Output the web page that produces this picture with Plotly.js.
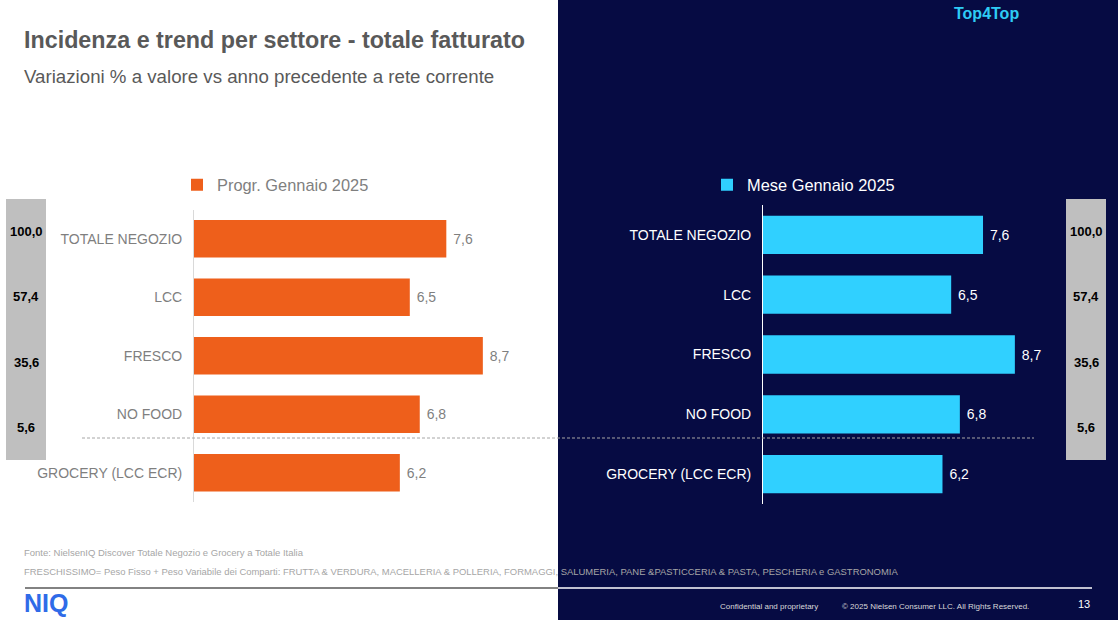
<!DOCTYPE html>
<html><head><meta charset="utf-8">
<script src="https://cdn.plot.ly/plotly-3.0.1.min.js"></script>
<style>html,body{margin:0;padding:0;background:#fff;overflow:hidden}#chart{width:1118px;height:620px}</style>
</head><body><div id="chart"></div>
<script>
// ---- data ----
const categories = ["TOTALE NEGOZIO", "LCC", "FRESCO", "NO FOOD", "GROCERY (LCC ECR)"];
const progrGennaio = [7.6, 6.5, 8.7, 6.8, 6.2];
const meseGennaio = [7.6, 6.5, 8.7, 6.8, 6.2];
const incidenzaCategories = ["TOTALE NEGOZIO", "LCC", "FRESCO", "NO FOOD"];
const incidenza = [100.0, 57.4, 35.6, 5.6];
const seriesNames = ["Progr. Gennaio 2025", "Mese Gennaio 2025"];
const titleText = "Incidenza e trend per settore - totale fatturato";
const subtitleText = "Variazioni % a valore vs anno precedente a rete corrente";
const sourceText = "Fonte: NielsenIQ Discover Totale Negozio e Grocery a Totale Italia";
const noteText = "FRESCHISSIMO= Peso Fisso + Peso Variabile dei Comparti: FRUTTA & VERDURA, MACELLERIA & POLLERIA, FORMAGGI, SALUMERIA, PANE &PASTICCERIA & PASTA, PESCHERIA e GASTRONOMIA";

// ---- layout helpers ----
const W = 1118, H = 620;
const px = x => x / W;
const py = y => 1 - y / H;
const FONT = "Liberation Sans, Arial, sans-serif";
const ORANGE = "#EE5F1B", CYAN = "#30D0FF", NAVY = "#060B43";
const GREY_TXT = "#7F7F7F";

const traces = [
  {
    type: "bar", orientation: "h", name: seriesNames[0],
    x: progrGennaio, y: categories, xaxis: "x", yaxis: "y",
    marker: {color: ORANGE}, legend: "legend",
    texttemplate: " %{x:.1f}", textposition: "outside", cliponaxis: false,
    textfont: {family: FONT, size: 14, color: GREY_TXT}, hoverinfo: "skip"
  },
  {
    type: "bar", orientation: "h", name: seriesNames[1],
    x: meseGennaio, y: categories, xaxis: "x2", yaxis: "y2",
    marker: {color: CYAN}, legend: "legend2",
    texttemplate: " %{x:.1f}", textposition: "outside", cliponaxis: false,
    textfont: {family: FONT, size: 14, color: "#FFFFFF"}, hoverinfo: "skip"
  }
];

const boxTop = 199, boxBottom = 460;
const shapes = [
  {type: "rect", xref: "paper", yref: "paper", x0: px(558), x1: 1, y0: 0, y1: 1,
   fillcolor: NAVY, line: {width: 0}, layer: "below"},
  {type: "rect", xref: "paper", yref: "paper", x0: px(6), x1: px(46), y0: py(boxBottom), y1: py(boxTop),
   fillcolor: "#BFBFBF", line: {width: 0}, layer: "below"},
  {type: "rect", xref: "paper", yref: "paper", x0: px(1066), x1: px(1106), y0: py(boxBottom), y1: py(boxTop),
   fillcolor: "#BFBFBF", line: {width: 0}, layer: "below"},
  {type: "line", xref: "paper", yref: "paper", x0: px(82), x1: px(1034), y0: py(438), y1: py(438),
   line: {color: "#A6A6A6", width: 1, dash: "3px,2px"}},
  {type: "line", xref: "paper", yref: "paper", x0: px(25), x1: px(558), y0: py(588), y1: py(588),
   line: {color: "#595959", width: 1.3}},
  {type: "line", xref: "paper", yref: "paper", x0: px(558), x1: px(1092), y0: py(588), y1: py(588),
   line: {color: "#FFFFFF", width: 1.3}}
];

const ann = (text, x, y, size, color, xanchor) => ({
  text: text, x: px(x), y: py(y), xref: "paper", yref: "paper",
  xanchor: xanchor || "left", yanchor: "middle", showarrow: false,
  font: {family: FONT, size: size, color: color}
});

const annotations = [
  ann("<b>" + titleText + "</b>", 22, 40, 23.3, "#595959"),
  ann(subtitleText, 22, 77, 18.7, "#595959"),
  ann("<b>Top4Top</b>", 952, 13, 16, "#2ECBF5"),
  ann(sourceText, 22, 552, 9.5, "#A6A6A6"),
  ann(noteText, 22, 571, 9.45, "#A6A6A6"),
  ann("<b>NIQ</b>", 22, 603, 25, "#2F6BE8"),
  ann("Confidential and proprietary", 718, 606, 8, "#D9D9D9"),
  ann("© 2025 Nielsen Consumer LLC. All Rights Reserved.", 840, 606, 8, "#D9D9D9"),
  ann("13", 1084, 604, 11, "#FFFFFF", "center")
];

const sec = (boxBottom - boxTop) / incidenza.length;
incidenza.forEach((v, i) => {
  const yc = boxTop + (i + 0.5) * sec;
  const label = "<b>" + v.toFixed(1).replace(".", ",") + "</b>";
  annotations.push(ann(label, 26, yc, 13, "#000000", "center"));
  annotations.push(ann(label, 1086, yc, 13, "#000000", "center"));
});

const layout = {
  width: W, height: H, autosize: false,
  margin: {l: 0, r: 0, t: 0, b: 0, pad: 0},
  paper_bgcolor: "#FFFFFF", plot_bgcolor: "rgba(0,0,0,0)",
  separators: ",.",
  font: {family: FONT},
  bargap: 0.36,
  showlegend: true,
  xaxis: {domain: [px(194), px(526)], range: [0, 10], visible: false, fixedrange: true},
  yaxis: {domain: [py(502), py(209.5)], autorange: "reversed", type: "category",
    showline: true, linecolor: "#D9D9D9", linewidth: 1, showgrid: false, zeroline: false,
    ticks: "", ticklabelstandoff: 8,
    tickfont: {family: FONT, size: 14, color: GREY_TXT}, fixedrange: true},
  xaxis2: {domain: [px(763), px(1052.5)], range: [0, 10], visible: false, fixedrange: true, anchor: "y2"},
  yaxis2: {domain: [py(504), py(205)], autorange: "reversed", type: "category", anchor: "x2",
    showline: true, linecolor: "#FFFFFF", linewidth: 1, showgrid: false, zeroline: false,
    ticks: "", ticklabelstandoff: 8,
    tickfont: {family: FONT, size: 14, color: "#FFFFFF"}, fixedrange: true},
  legend: {x: px(177), y: py(185), xanchor: "left", yanchor: "middle", orientation: "h",
    bgcolor: "rgba(0,0,0,0)", font: {family: FONT, size: 16.4, color: GREY_TXT}, itemwidth: 30},
  legend2: {x: px(707), y: py(185), xanchor: "left", yanchor: "middle", orientation: "h",
    bgcolor: "rgba(0,0,0,0)", font: {family: FONT, size: 16.4, color: "#FFFFFF"}, itemwidth: 30},
  shapes: shapes,
  annotations: annotations
};

Plotly.newPlot("chart", traces, layout, {displayModeBar: false, staticPlot: true});
</script>
</body></html>
